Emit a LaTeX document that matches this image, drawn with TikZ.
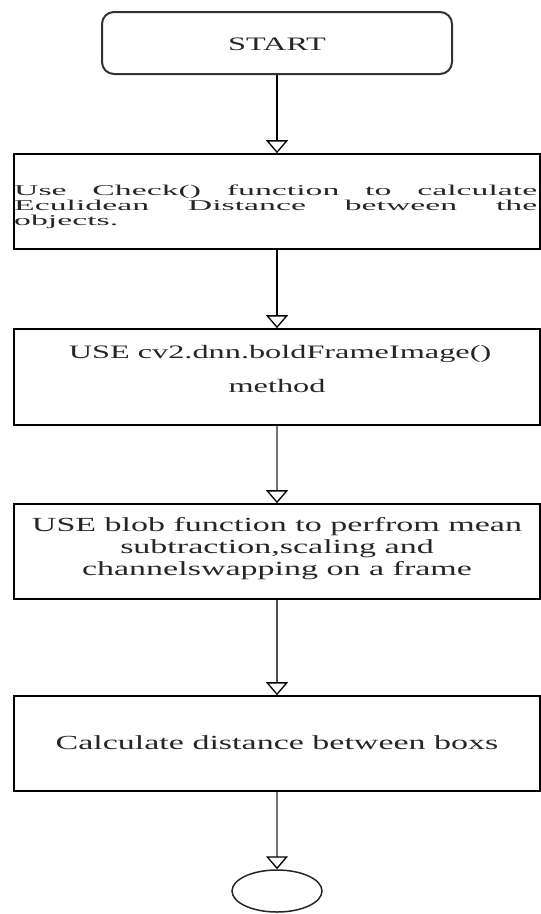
\documentclass[tikz,border=0pt]{standalone}
\usepackage{fontspec}
\setmainfont{Liberation Serif}
\newfontfamily\fontA[FakeStretch=2.25]{Liberation Serif}
\newfontfamily\fontB[FakeStretch=1.7]{Liberation Serif}
\usetikzlibrary{arrows.meta,shapes.geometric}
\begin{document}
\begin{tikzpicture}[x=1pt,y=-1pt,
  box/.style={draw=black, line width=1.6pt, minimum width=526pt, inner sep=0pt, fill=white},
  txtA/.style={inner sep=0pt, text=black!85, font=\fontA\fontsize{15}{15}\selectfont},
  txtB/.style={inner sep=0pt, text=black!85, font=\fontB\fontsize{20}{21}\selectfont},
  tip/.style={-{Triangle[open, width=22pt, length=13pt, line width=1.3pt, color=black]}},
  arrblack/.style={tip, draw=black, line width=1.3pt},
  arrgray/.style={tip, draw=black!55, line width=2.2pt},
]
\useasboundingbox[fill=white] (0,0) rectangle (541,914);

% nodes
\node[draw=black!80, line width=2pt, rounded corners=12pt, minimum width=350pt, minimum height=62pt, inner sep=0pt] (start) at (277,43) {};
\node[txtB, anchor=base, font=\fontB\fontsize{19}{20}\selectfont] (tstart) at (277,50) {START};

\node[box, minimum height=95pt] (b1) at (277,201.5) {};
\node[txtA, anchor=base west] (t1a) at (14,195) {\makebox[523pt][s]{Use Check() function to calculate}};
\node[txtA, anchor=base west] (t1b) at (14,210) {\makebox[523pt][s]{Eculidean Distance between the}};
\node[txtA, anchor=base west] (t1c) at (14,225) {objects.};

\node[box, minimum height=96pt] (b2) at (277,377) {};
\node[txtB, anchor=base, font=\fontB\fontsize{19}{20}\selectfont] (t2a) at (280,358) {USE cv2.dnn.boldFrameImage()};
\node[txtB, anchor=base, font=\fontB\fontsize{19}{20}\selectfont] (t2b) at (277,392) {method};

\node[box, minimum height=95pt] (b3) at (277,551.5) {};
\node[txtB, anchor=base] (t3a) at (277,531) {USE blob function to perfrom mean};
\node[txtB, anchor=base] (t3b) at (277,553) {subtraction,scaling and};
\node[txtB, anchor=base] (t3c) at (277,575) {channelswapping on a frame};

\node[box, minimum height=95pt] (b4) at (277,743.5) {};
\node[txtB, anchor=base] (t4) at (277,749) {Calculate distance between boxs};

\node[draw=black!85, line width=1.5pt, ellipse, minimum width=90pt, minimum height=42pt, inner sep=0pt] (stop) at (277,891) {};

% connectors
\draw[arrblack] (start) -- (b1);
\draw[arrblack] (b1) -- (b2);
\draw[arrgray] (b2) -- (b3);
\draw[arrgray, draw=black!70] (b3) -- (b4);
\draw[arrgray] (b4) -- (stop);
\end{tikzpicture}
\end{document}
